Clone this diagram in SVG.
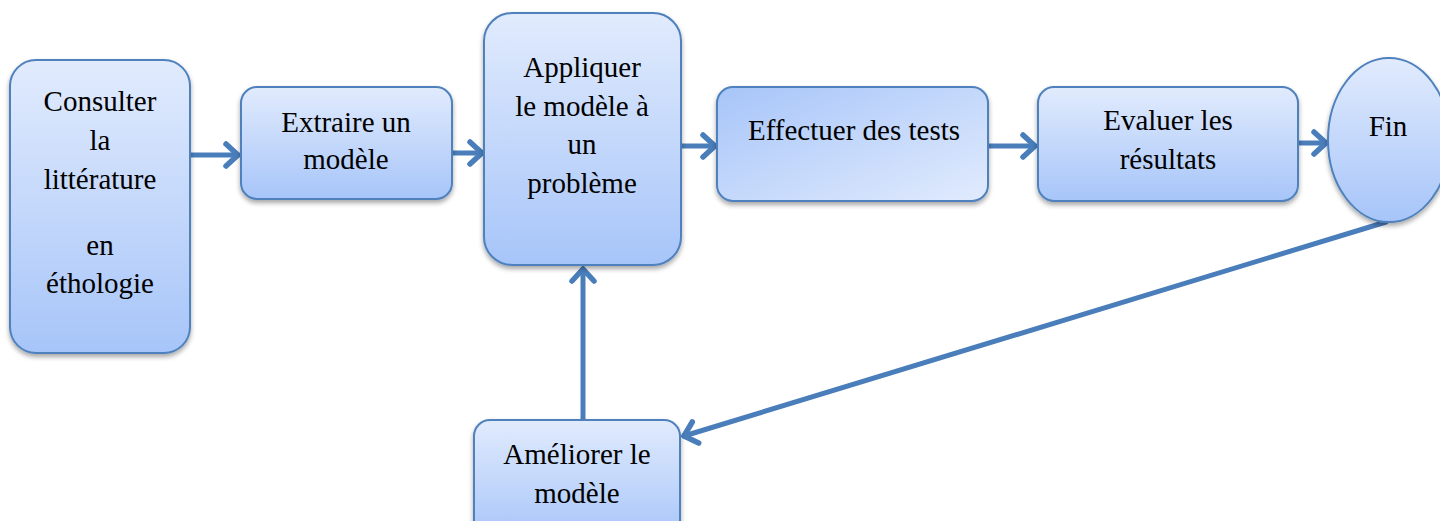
<svg xmlns="http://www.w3.org/2000/svg" width="1440" height="521" viewBox="0 0 1440 521">
  <defs>
    <linearGradient id="gV" x1="0" y1="0" x2="0" y2="1">
      <stop offset="0" stop-color="#e1ebfd"/>
      <stop offset="1" stop-color="#a7c5f9"/>
    </linearGradient>
    <linearGradient id="gD" x1="0" y1="0" x2="1" y2="1">
      <stop offset="0" stop-color="#a7c5f9"/>
      <stop offset="1" stop-color="#e1ebfd"/>
    </linearGradient>
    <filter id="sh" x="-10%" y="-10%" width="125%" height="125%">
      <feGaussianBlur in="SourceAlpha" stdDeviation="2.5"/>
      <feOffset dx="0" dy="3" result="b"/>
      <feComponentTransfer><feFuncA type="linear" slope="0.35"/></feComponentTransfer>
      <feMerge><feMergeNode/><feMergeNode in="SourceGraphic"/></feMerge>
    </filter>
    <marker id="head" markerUnits="userSpaceOnUse" viewBox="-16 -13 20 26" refX="0" refY="0" markerWidth="20" markerHeight="26" orient="auto" overflow="visible">
      <path d="M-12,-11 L0,0 L-12,11" fill="none" stroke="#4a7ebb" stroke-width="5.5" stroke-linecap="round" stroke-linejoin="round"/>
    </marker>
  </defs>
  <style>
    .box { stroke: #4f81bd; stroke-width: 2; filter: url(#sh); }
    .v { fill: url(#gV); }
    .d { fill: url(#gD); }
    text { font-family: 'Liberation Serif', Tinos, 'Times New Roman', 'DejaVu Serif', serif; font-size: 29px; fill: #000; text-anchor: middle; }
    .c { fill: none; stroke: #4a7ebb; stroke-width: 5; stroke-linecap: round; marker-end: url(#head); }
  </style>
  <rect width="1440" height="521" fill="#fff"/>

  <g id="connectors">
    <path class="c" d="M191,155 L238,155"/>
    <path class="c" d="M453,153 L482,153"/>
    <path class="c" d="M682,146 L715,146"/>
    <path class="c" d="M989,146 L1035,146"/>
    <path class="c" d="M1299,143 L1326,143"/>
    <path class="c" d="M583,419 L583,269"/>
    <path class="c" d="M1386,222 L684,436"/>
  </g>

  <g id="consulter">
    <rect class="box v" x="10" y="60" width="180" height="293" rx="26"/>
    <text x="100" y="111">Consulter</text>
    <text x="100" y="150">la</text>
    <text x="100" y="189">littérature</text>
    <text x="100" y="255">en</text>
    <text x="100" y="293">éthologie</text>
  </g>

  <g id="extraire">
    <rect class="box v" x="241" y="87" width="211" height="112" rx="16"/>
    <text x="346" y="132">Extraire un</text>
    <text x="346" y="169">modèle</text>
  </g>

  <g id="appliquer">
    <rect class="box v" x="484" y="13" width="197" height="252" rx="28"/>
    <text x="582" y="77">Appliquer</text>
    <text x="582" y="116">le modèle à</text>
    <text x="582" y="154">un</text>
    <text x="582" y="193">problème</text>
  </g>

  <g id="effectuer">
    <rect class="box d" x="717" y="87" width="271" height="114" rx="16"/>
    <text x="854" y="140">Effectuer des tests</text>
  </g>

  <g id="evaluer">
    <rect class="box v" x="1038" y="87" width="260" height="114" rx="16"/>
    <text x="1168" y="130">Evaluer les</text>
    <text x="1168" y="169">résultats</text>
  </g>

  <g id="fin">
    <ellipse class="box v" cx="1389" cy="140" rx="61" ry="82"/>
    <text x="1388" y="136">Fin</text>
  </g>

  <g id="ameliorer">
    <rect class="box v" x="474" y="420" width="206" height="120" rx="16"/>
    <text x="577" y="464">Améliorer le</text>
    <text x="577" y="503">modèle</text>
  </g>
</svg>
